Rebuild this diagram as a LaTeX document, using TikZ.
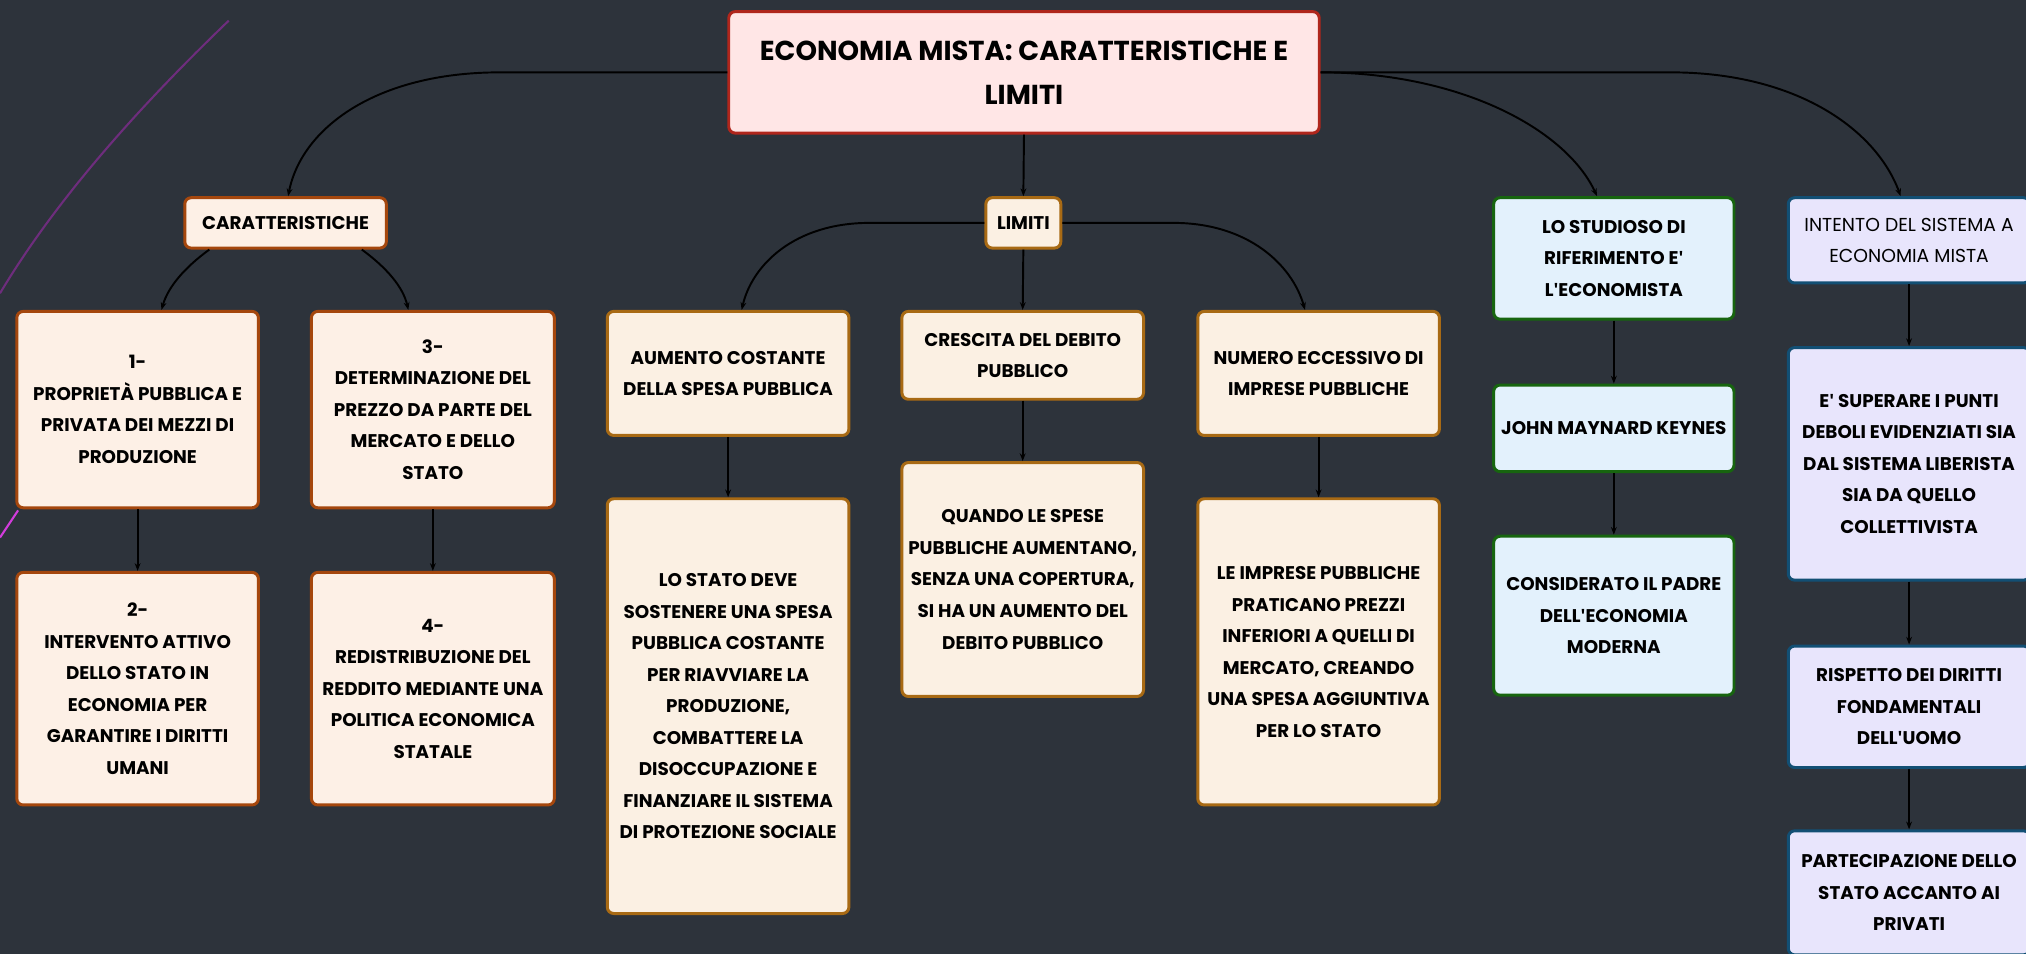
\documentclass[tikz,border=0pt]{standalone}
\usepackage{fontspec}
\setmainfont{Poppins}
\newfontfamily\aposfont{Open Sans}
\usetikzlibrary{arrows.meta,calc}
\newcommand\apos{{\aposfont\char"27\relax}}
\definecolor{bg}{RGB}{45,51,59}
\definecolor{rootfill}{RGB}{255,230,230}
\definecolor{rootdraw}{RGB}{176,38,28}
\definecolor{carfill}{RGB}{253,240,230}
\definecolor{cardraw}{RGB}{165,71,13}
\definecolor{limfill}{RGB}{251,240,227}
\definecolor{limdraw}{RGB}{168,106,20}
\definecolor{grfill}{RGB}{227,241,252}
\definecolor{grdraw}{RGB}{23,101,15}
\definecolor{pufill}{RGB}{232,229,252}
\definecolor{pudraw}{RGB}{18,79,116}
\definecolor{purpleline}{RGB}{110,45,125}
\definecolor{magline}{RGB}{210,60,220}
\tikzset{
  box/.style={draw, rounded corners=5pt, line width=2.3pt, align=center, text=black,
    inner sep=0pt, font=\bfseries\fontsize{14.2}{24.4}\selectfont},
  rootbox/.style={box, fill=rootfill, draw=rootdraw, font=\bfseries\fontsize{21.2}{34}\selectfont},
  carbox/.style={box, fill=carfill, draw=cardraw},
  limbox/.style={box, fill=limfill, draw=limdraw},
  grbox/.style={box, fill=grfill, draw=grdraw},
  pubox/.style={box, fill=pufill, draw=pudraw},
  conn/.style={draw=black, line width=1.5pt, -{Stealth[length=6pt,width=4.5pt]}},
}
\begin{document}
\begin{tikzpicture}[x=1pt,y=-1pt]
\fill[bg] (0,0) rectangle (1568,738);
\useasboundingbox (0,0) rectangle (1568,738);

% decorative lines on the left
\draw[purpleline, line width=1.6pt] (177,16) .. controls (100,90) and (40,160) .. (0,227);
\draw[magline, line width=1.6pt] (14,395) -- (0,416);

% nodes
\node[rootbox, minimum width=457pt, minimum height=94pt] (root) at (792.5,56)
  {ECONOMIA MISTA: CARATTERISTICHE E\\LIMITI};

\node[carbox, minimum width=156pt, minimum height=39pt] (car) at (221,172.5) {CARATTERISTICHE};
\node[limbox, minimum width=58pt, minimum height=39pt] (lim) at (792,172.5) {LIMITI};
\node[grbox, minimum width=186pt, minimum height=94pt] (stud) at (1249,200)
  {LO STUDIOSO DI\\RIFERIMENTO E\apos\\L\apos ECONOMISTA};
\node[pubox, minimum width=187pt, minimum height=66pt, font=\fontsize{14.5}{24.4}\selectfont] (int) at (1477.5,186)
  {INTENTO DEL SISTEMA A\\ECONOMIA MISTA};

\node[carbox, minimum width=187pt, minimum height=152pt] (n1) at (106.5,317)
  {1-\\PROPRIETÀ PUBBLICA E\\PRIVATA DEI MEZZI DI\\PRODUZIONE};
\node[carbox, minimum width=188pt, minimum height=152pt] (n3) at (335,317)
  {3-\\DETERMINAZIONE DEL\\PREZZO DA PARTE DEL\\MERCATO E DELLO\\STATO};
\node[carbox, minimum width=187pt, minimum height=180pt] (n2) at (106.5,533)
  {2-\\INTERVENTO ATTIVO\\DELLO STATO IN\\ECONOMIA PER\\GARANTIRE I DIRITTI\\UMANI};
\node[carbox, minimum width=188pt, minimum height=180pt] (n4) at (335,533)
  {4-\\REDISTRIBUZIONE DEL\\REDDITO MEDIANTE UNA\\POLITICA ECONOMICA\\STATALE};

\node[limbox, minimum width=187pt, minimum height=96pt] (aum) at (563.5,289)
  {AUMENTO COSTANTE\\DELLA SPESA PUBBLICA};
\node[limbox, minimum width=187pt, minimum height=68pt] (cre) at (791.5,275)
  {CRESCITA DEL DEBITO\\PUBBLICO};
\node[limbox, minimum width=187pt, minimum height=96pt] (num) at (1020.5,289)
  {NUMERO ECCESSIVO DI\\IMPRESE PUBBLICHE};

\node[limbox, minimum width=187pt, minimum height=321pt] (sta) at (563.5,546.5)
  {LO STATO DEVE\\SOSTENERE UNA SPESA\\PUBBLICA COSTANTE\\PER RIAVVIARE LA\\PRODUZIONE,\\COMBATTERE LA\\DISOCCUPAZIONE E\\FINANZIARE IL SISTEMA\\DI PROTEZIONE SOCIALE};
\node[limbox, minimum width=187pt, minimum height=181pt] (qua) at (791.5,448.5)
  {QUANDO LE SPESE\\PUBBLICHE AUMENTANO,\\SENZA UNA COPERTURA,\\SI HA UN AUMENTO DEL\\DEBITO PUBBLICO};
\node[limbox, minimum width=187pt, minimum height=237pt] (imp) at (1020.5,504.5)
  {LE IMPRESE PUBBLICHE\\PRATICANO PREZZI\\INFERIORI A QUELLI DI\\MERCATO, CREANDO\\UNA SPESA AGGIUNTIVA\\PER LO STATO};

\node[grbox, minimum width=186pt, minimum height=67pt] (joh) at (1249,331.5)
  {JOHN MAYNARD KEYNES};
\node[grbox, minimum width=186pt, minimum height=123pt] (con) at (1249,476.5)
  {CONSIDERATO IL PADRE\\DELL\apos ECONOMIA\\MODERNA};

\node[pubox, minimum width=187pt, minimum height=180pt] (sup) at (1477.5,359)
  {E\apos{} SUPERARE I PUNTI\\DEBOLI EVIDENZIATI SIA\\DAL SISTEMA LIBERISTA\\SIA DA QUELLO\\COLLETTIVISTA};
\node[pubox, minimum width=187pt, minimum height=94pt] (ris) at (1477.5,547)
  {RISPETTO DEI DIRITTI\\FONDAMENTALI\\DELL\apos UOMO};
\node[pubox, minimum width=187pt, minimum height=96pt] (par) at (1477.5,691)
  {PARTECIPAZIONE DELLO\\STATO ACCANTO AI\\PRIVATI};

% connectors
\coordinate (rl) at (387,56);
\draw[conn] (root.west) -- (rl) .. controls (290,56) and (233,100) .. ($(car.north)+(2,0)$);
\draw[conn] (root.south) -- (lim.north);
\draw[conn] (root.east) .. controls (1130,56) and (1212,100) .. ($(stud.north)+(-13,0)$);
\coordinate (rr) at (1293,56);
\draw[conn] (root.east) -- (rr) .. controls (1390,56) and (1452,100) .. ($(int.north)+(-6.5,0)$);

\draw[conn] ($(car.south)+(-59,0)$) .. controls (143,207) and (130,222) .. ($(n1.north)+(18.5,0)$);
\draw[conn] ($(car.south)+(59,0)$) .. controls (299,207) and (312,222) .. ($(n3.north)+(-19,0)$);
\draw[conn] (n1.south) -- (n2.north);
\draw[conn] (n3.south) -- (n4.north);

\coordinate (ll) at (673,172.5);
\coordinate (lr) at (908,172.5);
\draw[conn] (lim.west) -- (ll) .. controls (615,172.5) and (582,205) .. ($(aum.north)+(10.5,0)$);
\draw[conn] (lim.south) -- (cre.north);
\draw[conn] (lim.east) -- (lr) .. controls (966,172.5) and (1000,205) .. ($(num.north)+(-10.5,0)$);

\draw[conn] (aum.south) -- (sta.north);
\draw[conn] (cre.south) -- (qua.north);
\draw[conn] (num.south) -- (imp.north);
\draw[conn] (stud.south) -- (joh.north);
\draw[conn] (joh.south) -- (con.north);
\draw[conn] (int.south) -- (sup.north);
\draw[conn] (sup.south) -- (ris.north);
\draw[conn] (ris.south) -- (par.north);
\end{tikzpicture}
\end{document}
